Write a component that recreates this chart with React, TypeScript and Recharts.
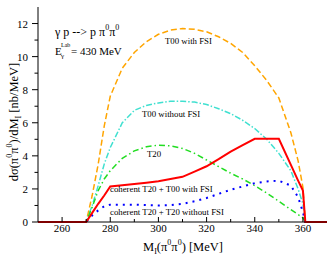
import React from "react";
import { LineChart, Line, XAxis, YAxis } from "recharts";

// invariant mass grid, MeV
const massGrid = [
  250, 270, 272.5, 275, 277.5, 280, 285, 290, 295, 300, 305, 310, 315, 320,
  325, 330, 335, 340, 345, 350, 355, 358, 360, 361, 370,
];

// dσ/dM_I in nb/MeV
const t00WithFsi = [
  0, 0, 1.6, 3.5, 5.8, 7.6, 9.3, 10.25, 10.9, 11.35, 11.6, 11.7, 11.65, 11.5,
  11.2, 10.8, 10.25, 9.45, 8.55, 7.5, 5.4, 3.7, 2.1, 0, 0,
];
const t00NoFsi = [
  0, 0, 1.0, 2.2, 3.5, 4.5, 6.0, 6.75, 7.05, 7.2, 7.3, 7.3, 7.25, 7.1, 6.85,
  6.55, 6.15, 5.65, 5.0, 4.15, 3.1, 2.0, 1.1, 0, 0,
];
const t20 = [
  0, 0, 0.9, 1.9, 2.6, 3.1, 3.85, 4.3, 4.55, 4.65, 4.6, 4.45, 4.15, 3.75, 3.35,
  2.95, 2.6, 2.2, 1.75, 1.25, 0.75, 0.45, 0.25, 0, 0,
];
const coherentWithFsi = [
  0, 0, 0.55, 1.1, 1.6, 2.15, 2.22, 2.3, 2.38, 2.47, 2.6, 2.73, 3.05, 3.37,
  3.8, 4.26, 4.65, 5.03, 5.03, 5.03, 3.45, 2.5, 1.9, 0, 0,
];
const coherentNoFsi = [
  0, 0, 0.4, 0.7, 0.95, 1.05, 1.05, 1.05, 1.02, 1.0, 1.02, 1.1, 1.25, 1.45,
  1.7, 1.95, 2.15, 2.35, 2.45, 2.5, 2.2, 1.5, 0.6, 0, 0,
];

const xTicks = [260, 270, 280, 290, 300, 310, 320, 330, 340, 350, 360];
const xLabelled = [260, 280, 300, 320, 340, 360];
const yTicks = [0, 1, 2, 3, 4, 5, 6, 7, 8, 9, 10, 11, 12];
const yLabelled = [0, 2, 4, 6, 8, 10, 12];

const FONT = '"Liberation Serif", "Times New Roman", Times, "DejaVu Serif", serif';

const toPoints = (vals: number[]) => massGrid.map((m, i) => ({ m, v: vals[i] }));

const curves = [
  { key: "t00fsi", vals: t00WithFsi, color: "#FFA500", dash: "6 3", w: 1.5 },
  { key: "t00", vals: t00NoFsi, color: "#40E0D0", dash: "6 2 1.5 2", w: 1.5 },
  { key: "t20", vals: t20, color: "#22DD22", dash: "6 3 1.5 3", w: 1.5 },
  { key: "cohNo", vals: coherentNoFsi, color: "#0000FF", dash: "2 5", w: 2 },
  { key: "cohFsi", vals: coherentWithFsi, color: "#FF0000", dash: undefined, w: 2 },
];

function BottomTick(props: any) {
  const { x, y, payload } = props;
  const major = xLabelled.includes(payload.value);
  return (
    <g>
      <line x1={x} y1={y} x2={x} y2={y - (major ? 5 : 3)} stroke="#000" />
      {major && (
        <text x={x} y={y + 10} textAnchor="middle" fontSize={11} style={{ fontFamily: FONT }} fill="#000">
          {payload.value}
        </text>
      )}
    </g>
  );
}

function TopTick(props: any) {
  const { x, y, payload } = props;
  const major = xLabelled.includes(payload.value);
  return <line x1={x} y1={y} x2={x} y2={y + (major ? 5 : 3)} stroke="#000" />;
}

function LeftTick(props: any) {
  const { x, y, payload } = props;
  const major = yLabelled.includes(payload.value);
  return (
    <g>
      <line x1={x} y1={y} x2={x - (major ? 6 : 3.5)} y2={y} stroke="#000" />
      {major && (
        <text x={x - 10} y={y + 4} textAnchor="end" fontSize={11} style={{ fontFamily: FONT }} fill="#000">
          {payload.value}
        </text>
      )}
    </g>
  );
}

function RightTick(props: any) {
  const { x, y, payload } = props;
  const major = yLabelled.includes(payload.value);
  return <line x1={x} y1={y} x2={x - (major ? 5 : 3)} y2={y} stroke="#000" />;
}

function Annotations() {
  const sup = { fontSize: 8 };
  return (
    <svg
      width={334}
      height={258}
      style={{ position: "absolute", left: 0, top: 0, pointerEvents: "none", fontFamily: FONT }}
      fill="#000"
    >
      <text x={55} y={36} fontSize={12}>
        γ p --&gt; p π<tspan dy={-6} {...sup}>0</tspan>
        <tspan dy={6}>π</tspan>
        <tspan dy={-6} {...sup}>0</tspan>
      </text>
      <text x={55} y={55} fontSize={11}>E</text>
      <text x={61} y={58} fontSize={7}>γ</text>
      <text x={61} y={47} fontSize={6}>Lab</text>
      <text x={71} y={55} fontSize={11}>= 430 MeV</text>

      <text x={165} y={44} fontSize={8.8}>T00 with FSI</text>
      <text x={142} y={116.5} fontSize={8.8}>T00 without FSI</text>
      <text x={147} y={156.5} fontSize={8.8}>T20</text>
      <text x={110} y={192} fontSize={8.8}>coherent T20 + T00 with FSI</text>
      <text x={110} y={214.5} fontSize={8.8}>coherent T20 + T20 without FSI</text>

      <text x={183} y={251} fontSize={12.5} textAnchor="middle">
        M<tspan dy={3} fontSize={8}>I</tspan>
        <tspan dy={-3}>(π</tspan>
        <tspan dy={-6} fontSize={8}>0</tspan>
        <tspan dy={6}>π</tspan>
        <tspan dy={-6} fontSize={8}>0</tspan>
        <tspan dy={6}>) [MeV]</tspan>
      </text>

      <text transform="translate(18,122) rotate(-90)" fontSize={12.5} textAnchor="middle">
        dσ(π<tspan dy={-6} fontSize={8}>0</tspan>
        <tspan dy={6}>π</tspan>
        <tspan dy={-6} fontSize={8}>0</tspan>
        <tspan dy={6}>)/dM</tspan>
        <tspan dy={3} fontSize={8}>I</tspan>
        <tspan dy={-3}> [nb/MeV]</tspan>
      </text>
    </svg>
  );
}

export default function App() {
  return (
    <div style={{ position: "absolute", left: 0, top: 0, width: 334, height: 258, background: "#fff" }}>
      <LineChart width={334} height={258} margin={{ top: 7, right: 7, bottom: 0, left: 0 }}>
        <XAxis
          xAxisId="b"
          type="number"
          dataKey="m"
          domain={[250, 370]}
          ticks={xTicks}
          interval={0}
          height={36}
          tickSize={0}
          tickMargin={0}
          tickLine={false}
          axisLine={{ stroke: "#000" }}
          tick={<BottomTick />}
        />
        <XAxis
          xAxisId="t"
          orientation="top"
          type="number"
          dataKey="m"
          domain={[250, 370]}
          ticks={xTicks}
          interval={0}
          height={0}
          tickSize={0}
          tickMargin={0}
          tickLine={false}
          axisLine={{ stroke: "#000" }}
          tick={<TopTick />}
        />
        <YAxis
          yAxisId="l"
          type="number"
          domain={[0, 13]}
          ticks={yTicks}
          interval={0}
          width={38}
          tickSize={0}
          tickMargin={0}
          tickLine={false}
          axisLine={{ stroke: "#000" }}
          tick={<LeftTick />}
        />
        <YAxis
          yAxisId="r"
          orientation="right"
          type="number"
          domain={[0, 13]}
          ticks={yTicks}
          interval={0}
          width={0}
          tickSize={0}
          tickMargin={0}
          tickLine={false}
          axisLine={{ stroke: "#000" }}
          tick={<RightTick />}
        />
        {curves.map((c) => (
          <Line
            key={c.key}
            xAxisId="b"
            yAxisId="l"
            data={toPoints(c.vals)}
            dataKey="v"
            type="linear"
            stroke={c.color}
            strokeWidth={c.w}
            strokeDasharray={c.dash}
            dot={false}
            activeDot={false}
            isAnimationActive={false}
          />
        ))}
      </LineChart>
      <Annotations />
    </div>
  );
}
